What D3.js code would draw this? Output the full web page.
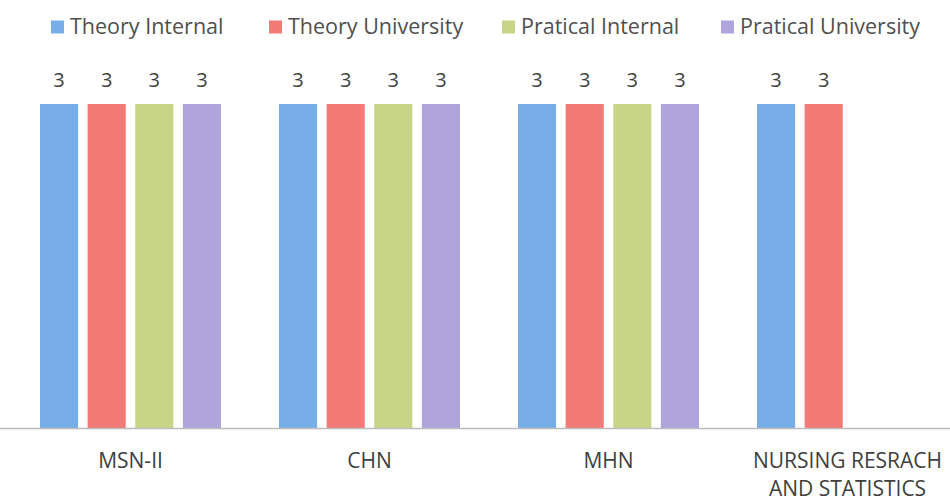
<!DOCTYPE html>
<html><head><meta charset="utf-8">
<script src="https://cdn.jsdelivr.net/npm/d3@7/dist/d3.min.js"></script>
<style>
html,body{margin:0;padding:0;background:#fff;}
svg{display:block;font-family:"Open Sans","Noto Sans",sans-serif;}
</style></head>
<body><svg id="c" width="950" height="502"></svg>
<script>
const categories = ["MSN-II", "CHN", "MHN", "NURSING RESRACH AND STATISTICS"];
const seriesNames = ["Theory Internal", "Theory University", "Pratical Internal", "Pratical University"];
const theoryInternal = [3, 3, 3, 3];
const theoryUniversity = [3, 3, 3, 3];
const praticalInternal = [3, 3, 3, null];
const praticalUniversity = [3, 3, 3, null];
const colors = ["#78aee8", "#f47a78", "#c8d487", "#b0a4dc"];

const seriesValues = [theoryInternal, theoryUniversity, praticalInternal, praticalUniversity];
const data = categories.map((c, i) => ({
  cat: c,
  vals: seriesNames.map((s, j) => ({ s, v: seriesValues[j][i] })).filter(d => d.v != null)
}));

const svg = d3.select("#c");
const baseY = 428;
const x0 = d3.scaleBand().domain(categories).range([11, 967]).padding(0);
const x1 = d3.scaleBand().domain(seriesNames).range([29, 210]).paddingInner(0.2).paddingOuter(0);
const y = d3.scaleLinear().domain([0, 3]).range([baseY, 104]);
const color = d3.scaleOrdinal().domain(seriesNames).range(colors);

const g = svg.selectAll("g.cat").data(data).enter().append("g")
  .attr("class", "cat").attr("transform", d => `translate(${x0(d.cat)},0)`);
g.selectAll("rect").data(d => d.vals).enter().append("rect")
  .attr("x", d => x1(d.s)).attr("width", x1.bandwidth())
  .attr("y", d => y(d.v)).attr("height", d => y(0) - y(d.v))
  .attr("fill", d => color(d.s));
g.selectAll("text.val").data(d => d.vals).enter().append("text")
  .attr("class", "val")
  .attr("x", d => x1(d.s) + x1.bandwidth() / 2)
  .attr("y", d => y(d.v) - 17)
  .attr("text-anchor", "middle")
  .attr("font-size", 20).attr("fill", "#404040")
  .text(d => d.v);

// x axis
const xAxis = svg.append("g").attr("transform", `translate(0,${baseY})`)
  .call(d3.axisBottom(x0).tickSize(0).tickPadding(0));
xAxis.attr("font-size", null).attr("font-family", null);
xAxis.select(".domain").attr("d", "M0,0.5H950").attr("stroke", "#bdbdbd").attr("stroke-width", 1.5);
xAxis.selectAll(".tick text").attr("font-size", 21).attr("fill", "#404040")
  .style("font-size", "21px")
  .each(function(d) {
    const t = d3.select(this);
    const words = d.split(" ");
    t.text(null);
    let lines = [];
    if (d.length > 16) {
      lines = [words.slice(0, 2).join(" "), words.slice(2).join(" ")];
    } else lines = [d];
    lines.forEach((ln, i) => {
      t.append("tspan").attr("x", 0).attr("y", 40 + i * 28).text(ln);
    });
  })
  .attr("dy", null);

// legend
const legendX = [51, 269, 502, 721];
const lg = svg.append("g").selectAll("g").data(seriesNames).enter().append("g")
  .attr("transform", (d, i) => `translate(${legendX[i]},0)`);
lg.append("rect").attr("x", 0).attr("y", 20.5).attr("width", 13).attr("height", 13).attr("fill", d => color(d));
lg.append("text").attr("x", 19).attr("y", 33.5).attr("font-size", 21.5).attr("fill", "#505050").text(d => d);
</script></body></html>
